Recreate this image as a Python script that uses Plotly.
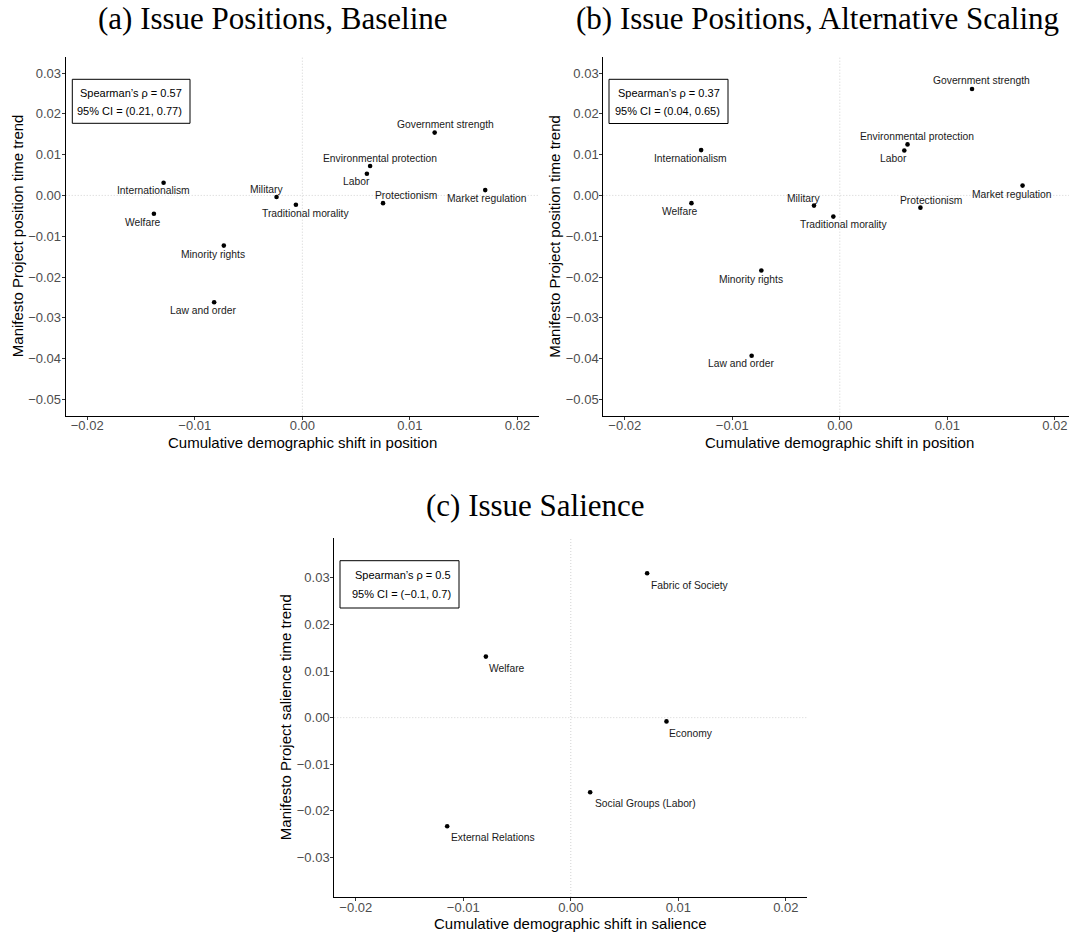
import plotly.graph_objects as go

W, H = 1069, 934

# ---------------- data ----------------
pos_issues = ["Government strength", "Environmental protection", "Labor", "Market regulation",
              "Protectionism", "Traditional morality", "Military", "Internationalism",
              "Welfare", "Minority rights", "Law and order"]
pos_shift = [0.0123, 0.0063, 0.0060, 0.0170, 0.0075, -0.0006, -0.0024, -0.0129, -0.0138, -0.0073, -0.0082]
pos_trend_baseline = [0.0154, 0.0072, 0.0053, 0.0013, -0.0019, -0.0023, -0.0004, 0.0031, -0.0045, -0.0123, -0.0262]
pos_trend_alt = [0.0261, 0.0125, 0.0110, 0.0024, -0.0030, -0.0052, -0.0025, 0.0111, -0.0019, -0.0184, -0.0393]

sal_issues = ["Fabric of Society", "Welfare", "Economy", "Social Groups (Labor)", "External Relations"]
sal_shift = [0.0071, -0.0079, 0.0089, 0.0018, -0.0115]
sal_trend = [0.0310, 0.0131, -0.0008, -0.0160, -0.0233]

x_ticks = [-0.02, -0.01, 0.0, 0.01, 0.02]
x_ticktext = ["\u22120.02", "\u22120.01", "0.00", "0.01", "0.02"]
y_ticks_pos = [-0.05, -0.04, -0.03, -0.02, -0.01, 0.0, 0.01, 0.02, 0.03]
y_ticktext_pos = ["\u22120.05", "\u22120.04", "\u22120.03", "\u22120.02", "\u22120.01", "0.00", "0.01", "0.02", "0.03"]
y_ticks_sal = [-0.03, -0.02, -0.01, 0.0, 0.01, 0.02, 0.03]
y_ticktext_sal = ["\u22120.03", "\u22120.02", "\u22120.01", "0.00", "0.01", "0.02", "0.03"]

stats_a = ["Spearman\u2019s \u03c1 = 0.57", "95% CI = (0.21, 0.77)"]
stats_b = ["Spearman\u2019s \u03c1 = 0.37", "95% CI = (0.04, 0.65)"]
stats_c = ["Spearman\u2019s \u03c1 = 0.5", "95% CI = (\u22120.1, 0.7)"]

titles = ["(a) Issue Positions, Baseline", "(b) Issue Positions, Alternative Scaling", "(c) Issue Salience"]
xtitle_pos = "Cumulative demographic shift in position"
xtitle_sal = "Cumulative demographic shift in salience"
ytitle_pos = "Manifesto Project position time trend"
ytitle_sal = "Manifesto Project salience time trend"

# label offsets (pixels, dx right, dy down), style only
off_a = [(10.7, -8.3), (10, -7.9), (-10.3, 7.9), (1.7, 8.6), (23.4, -7.9), (9.7, 9),
         (-10.3, -7.6), (-10.3, 7.9), (-10.7, 9), (-10.7, 9), (-10.7, 7.9)]
off_b = [(9.8, -8.1), (9.5, -7.8), (-10.8, 8.1), (-10.8, 8.5), (10.1, -7.4), (9.8, 7.8),
         (-10.8, -7.4), (-10.5, 8.5), (-11.2, 8.5), (-10.5, 8.8), (-10.8, 8.1)]
off_c = [(1.7, 12.4), (0.7, 12.1), (1.0, 12.4), (3.1, 11.4), (2.0, 11.4)]


def px(x):
    return x / W


def py(y):
    return 1 - y / H


SANS = "Liberation Sans, Arial, Helvetica, sans-serif"
SERIF = "Liberation Serif, Times New Roman, serif"
TICK_COLOR = "#4D4D4D"

fig = go.Figure()

panels = [
    dict(xa="x", ya="y", x=pos_shift, y=pos_trend_baseline, labels=pos_issues, offs=off_a,
         xdom=[px(65.7), px(539)], ydom=[py(415.7), py(56.7)], xr=[-0.022, 0.022], yr=[-0.054, 0.034],
         yt=(y_ticks_pos, y_ticktext_pos), anchor_left=False),
    dict(xa="x2", ya="y2", x=pos_shift, y=pos_trend_alt, labels=pos_issues, offs=off_b,
         xdom=[px(603.3), 1.0], ydom=[py(415.7), py(56.7)], xr=[-0.022, 0.022 - 7.3 / 10750], yr=[-0.054, 0.034],
         yt=(y_ticks_pos, y_ticktext_pos), anchor_left=False),
    dict(xa="x3", ya="y3", x=sal_shift, y=sal_trend, labels=sal_issues, offs=off_c,
         xdom=[px(334.3), px(807.3)], ydom=[py(897), py(538.3)], xr=[-0.022, 0.022], yr=[-0.0385, 0.0385],
         yt=(y_ticks_sal, y_ticktext_sal), anchor_left=True),
]

annotations = []
shapes = []
for i, p in enumerate(panels):
    fig.add_trace(go.Scatter(x=p["x"], y=p["y"], mode="markers", xaxis=p["xa"], yaxis=p["ya"],
                             marker=dict(color="black", size=4.6), showlegend=False, hoverinfo="skip"))
    suffix = "" if i == 0 else str(i + 1)
    common = dict(showgrid=False, zeroline=False, showline=True, linecolor="black", linewidth=1.1,
                  ticks="outside", ticklen=3, tickwidth=1, tickcolor="#333333",
                  tickfont=dict(family=SANS, size=13, color=TICK_COLOR))
    fig.layout["xaxis" + suffix] = dict(domain=p["xdom"], range=p["xr"], anchor="y" + suffix,
                                        tickvals=x_ticks, ticktext=x_ticktext, ticklabelstandoff=-5, **common)
    fig.layout["yaxis" + suffix] = dict(domain=p["ydom"], range=p["yr"], anchor="x" + suffix,
                                        tickvals=p["yt"][0], ticktext=p["yt"][1], ticklabelstandoff=-2, **common)
    # dotted reference lines at zero
    shapes.append(dict(type="line", xref=p["xa"], yref=p["ya"] + " domain", x0=0, x1=0, y0=0, y1=1,
                       line=dict(color="#D2D2D2", width=1, dash="1px,2px"), layer="below"))
    shapes.append(dict(type="line", xref=p["xa"] + " domain", yref=p["ya"], x0=0, x1=1, y0=0, y1=0,
                       line=dict(color="#D2D2D2", width=1, dash="1px,2px"), layer="below"))
    # point labels
    for lab, xv, yv, (dx, dy) in zip(p["labels"], p["x"], p["y"], p["offs"]):
        annotations.append(dict(x=xv, y=yv, xref=p["xa"], yref=p["ya"], text=lab, showarrow=False,
                                xanchor="left" if p["anchor_left"] else "center", yanchor="middle",
                                xshift=dx, yshift=-dy,
                                font=dict(family=SANS, size=10.3, color="#1a1a1a")))

# stats boxes: (left, right, top, bottom, text right edge, line1 y, line2 y)
boxes = [
    (72.3, 190.0, 79.3, 123.3, 184.0, 92.7, 110.7, stats_a),
    (609.0, 728.0, 79.3, 123.5, 721.5, 92.7, 110.9, stats_b),
    (340.0, 459.0, 560.7, 608.0, 453.0, 574.5, 593.5, stats_c),
]
for l, r, t, b, tx, y1, y2, st in boxes:
    shapes.append(dict(type="rect", xref="paper", yref="paper", x0=px(l), x1=px(r), y0=py(b), y1=py(t),
                       line=dict(color="black", width=1), fillcolor="white", layer="above"))
    for yy, txt in zip((y1, y2), st):
        annotations.append(dict(x=px(tx), y=py(yy), xref="paper", yref="paper", text=txt, showarrow=False,
                                xanchor="right", yanchor="middle",
                                font=dict(family=SANS, size=11, color="black")))

# axis titles
for xc, yc, txt in [(302.4, 442, xtitle_pos), (839.8, 442, xtitle_pos), (570.8, 923, xtitle_sal)]:
    annotations.append(dict(x=px(xc), y=py(yc), xref="paper", yref="paper", text=txt, showarrow=False,
                            xanchor="center", yanchor="middle", font=dict(family=SANS, size=15, color="black")))
for xc, yc, txt in [(17, 236.2, ytitle_pos), (554.6, 236.2, ytitle_pos), (285.6, 717.6, ytitle_sal)]:
    annotations.append(dict(x=px(xc), y=py(yc), xref="paper", yref="paper", text=txt, showarrow=False,
                            textangle=-90, xanchor="center", yanchor="middle",
                            font=dict(family=SANS, size=15, color="black")))

# panel titles
for xc, yc, txt in [(272.5, 18, titles[0]), (817, 18, titles[1]), (535, 505, titles[2])]:
    annotations.append(dict(x=px(xc), y=py(yc), xref="paper", yref="paper", text=txt, showarrow=False,
                            xanchor="center", yanchor="middle", font=dict(family=SERIF, size=31, color="black")))

fig.update_layout(width=W, height=H, margin=dict(l=0, r=0, t=0, b=0), autosize=False,
                  paper_bgcolor="white", plot_bgcolor="rgba(0,0,0,0)",
                  annotations=annotations, shapes=shapes, showlegend=False)

fig.write_html("out.html", config={"displayModeBar": False},
               post_script="document.body.style.margin='0';document.body.style.overflow='hidden';")
